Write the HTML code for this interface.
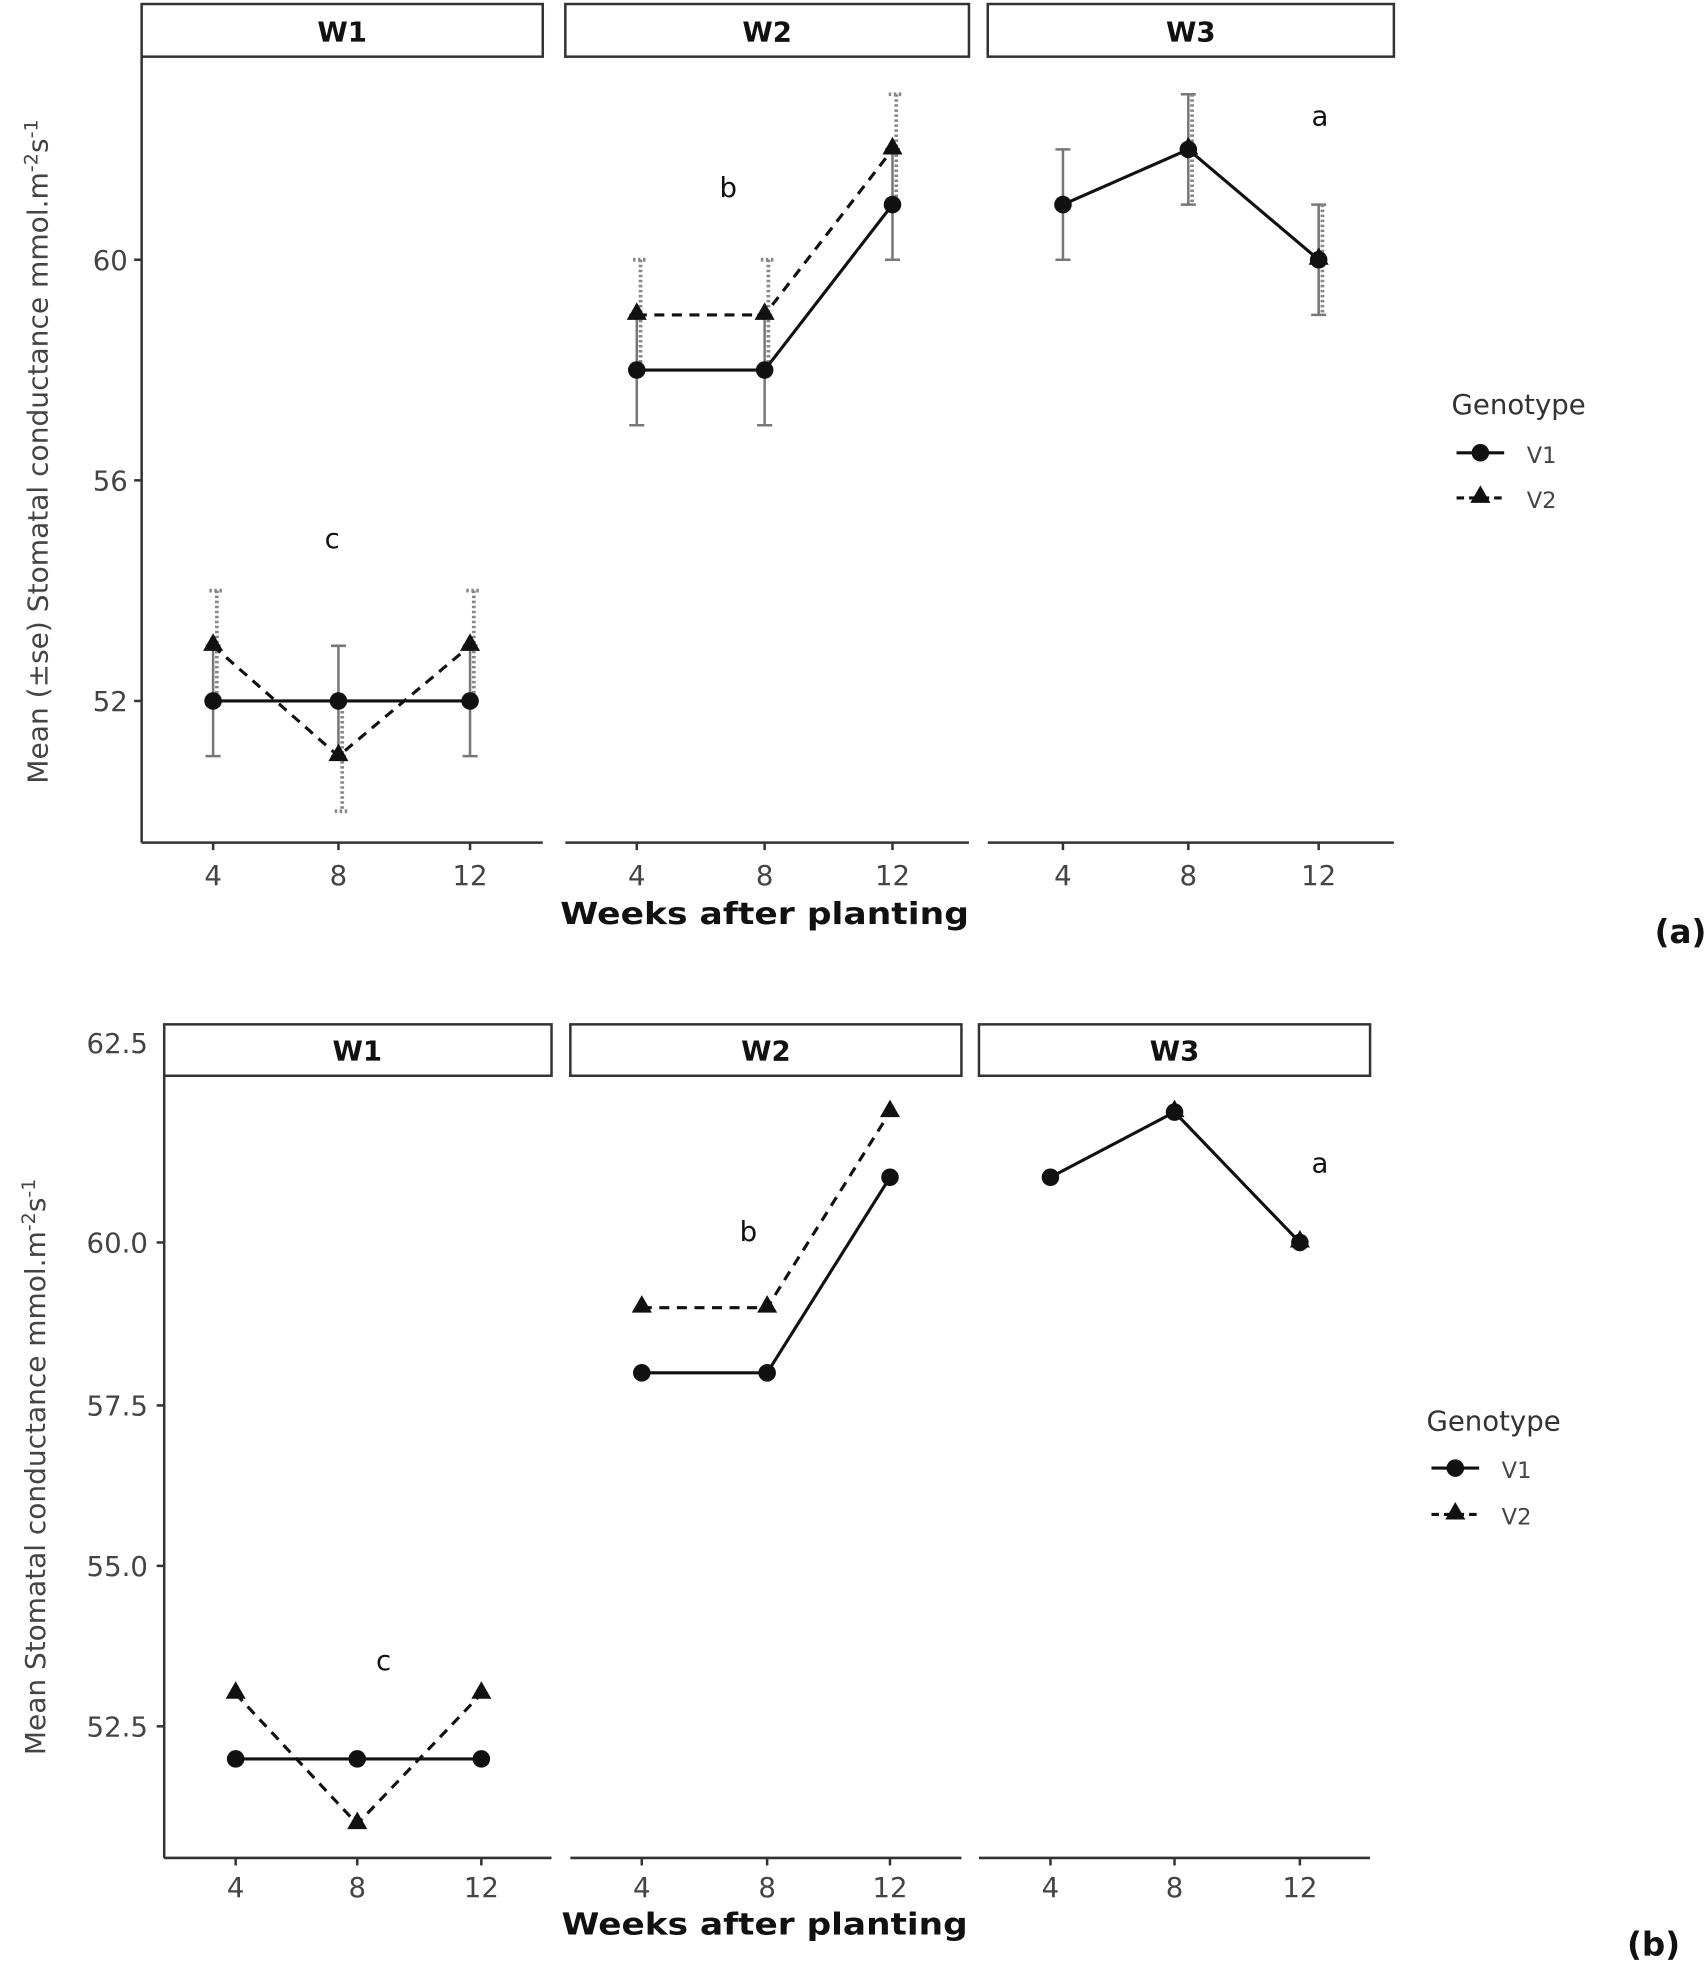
<!DOCTYPE html>
<html><head><meta charset="utf-8"><style>
html,body{margin:0;padding:0;background:#fff;}
svg{display:block;}
text{font-family:"DejaVu Sans","Liberation Sans",sans-serif;}
</style></head><body>
<svg width="1706" height="1966" viewBox="0 0 1361 1568" xmlns="http://www.w3.org/2000/svg">
<defs>
<g id="tri"><polygon points="0,-8 8,6 -8,6" fill="#111"/></g>
</defs>
<!-- ===== Panel (a) ===== -->
<g stroke="#333" stroke-width="2" fill="#fff">
<rect x="113" y="3" width="320" height="42"/>
<rect x="451" y="3" width="322" height="42"/>
<rect x="788" y="3" width="324" height="42"/>
</g>
<g font-weight="bold" font-size="22" text-anchor="middle" fill="#111">
<text x="273" y="33">W1</text><text x="612" y="33">W2</text><text x="950" y="33">W3</text>
</g>
<g stroke="#333" stroke-width="2">
<line x1="113" y1="45" x2="113" y2="672"/>
<line x1="113" y1="672" x2="433" y2="672"/>
<line x1="451" y1="672" x2="773" y2="672"/>
<line x1="788" y1="672" x2="1112" y2="672"/>
<line x1="107" y1="207" x2="113" y2="207"/><line x1="107" y1="383" x2="113" y2="383"/><line x1="107" y1="559" x2="113" y2="559"/>
<line x1="170" y1="672" x2="170" y2="678"/><line x1="270" y1="672" x2="270" y2="678"/><line x1="375" y1="672" x2="375" y2="678"/>
<line x1="508" y1="672" x2="508" y2="678"/><line x1="610" y1="672" x2="610" y2="678"/><line x1="712" y1="672" x2="712" y2="678"/>
<line x1="848" y1="672" x2="848" y2="678"/><line x1="948" y1="672" x2="948" y2="678"/><line x1="1052" y1="672" x2="1052" y2="678"/>
</g>
<g font-size="22" fill="#444" text-anchor="end">
<text x="102" y="215">60</text><text x="102" y="391">56</text><text x="102" y="567">52</text>
</g>
<g font-size="22" fill="#444" text-anchor="middle">
<text x="170" y="706">4</text><text x="270" y="706">8</text><text x="375" y="706">12</text>
<text x="508" y="706">4</text><text x="610" y="706">8</text><text x="712" y="706">12</text>
<text x="848" y="706">4</text><text x="948" y="706">8</text><text x="1052" y="706">12</text>
</g>
<text x="447" y="737" font-size="24" font-weight="bold" fill="#111" textLength="326" lengthAdjust="spacingAndGlyphs">Weeks after planting</text>
<text transform="translate(38,625) rotate(-90)" font-size="22" fill="#444" textLength="530" lengthAdjust="spacingAndGlyphs">Mean (±se)  Stomatal conductance  mmol.m<tspan dy="-8" font-size="15">-2</tspan><tspan dy="8">s</tspan><tspan dy="-8" font-size="15">-1</tspan></text>
<!-- error bars (a) -->
<g stroke="#777" stroke-width="2" fill="none">
<path d="M170,515V603M164,515h12M164,603h12 M270,515V603M264,515h12M264,603h12 M375,515V603M369,515h12M369,603h12
M508,251V339M502,251h12M502,339h12 M610,251V339M604,251h12M604,339h12 M712,119V207M706,119h12M706,207h12
M848,119V207M842,119h12M842,207h12 M948,75V163M942,75h12M942,163h12 M1052,163V251M1046,163h12M1046,251h12"/>
</g>
<g stroke="#888" stroke-width="3" stroke-dasharray="2,2" fill="none">
<path d="M173,471V559M167,471h12 M273,559V647M267,647h12 M378,471V559M372,471h12
M511,207V295M505,207h12 M613,207V295M607,207h12 M715,75V163M709,75h12
M951,75V163 M1055,163V251"/>
</g>
<g stroke="#111" stroke-width="2.5" fill="none">
<polyline points="170,559 270,559 375,559"/>
<polyline points="508,295 610,295 712,163"/>
<polyline points="848,163 948,119 1052,207"/>
</g>
<g stroke="#111" stroke-width="2.5" fill="none" stroke-dasharray="8,6">
<polyline points="170,515 270,603 375,515"/>
<polyline points="508,251 610,251 712,119"/>
</g>
<g fill="#111">
<circle cx="170" cy="559" r="7"/><circle cx="270" cy="559" r="7"/><circle cx="375" cy="559" r="7"/>
<circle cx="508" cy="295" r="7"/><circle cx="610" cy="295" r="7"/><circle cx="712" cy="163" r="7"/>
<circle cx="848" cy="163" r="7"/><circle cx="948" cy="119" r="7"/><circle cx="1052" cy="207" r="7"/>
</g>
<use href="#tri" x="170" y="513"/><use href="#tri" x="270" y="601"/><use href="#tri" x="375" y="513"/>
<use href="#tri" x="508" y="249"/><use href="#tri" x="610" y="249"/><use href="#tri" x="712" y="117"/>
<use href="#tri" x="948" y="117"/><use href="#tri" x="1052" y="205"/>
<g font-size="22" fill="#111" text-anchor="middle">
<text x="265" y="437">c</text><text x="581" y="157">b</text><text x="1053" y="100">a</text>
</g>
<text x="1158" y="330" font-size="22" fill="#333">Genotype</text>
<line x1="1162" y1="361" x2="1200" y2="361" stroke="#111" stroke-width="2.5"/><circle cx="1181" cy="361" r="7" fill="#111"/>
<text x="1218" y="369" font-size="18" fill="#444">V1</text>
<line x1="1162" y1="397" x2="1200" y2="397" stroke="#111" stroke-width="2.5" stroke-dasharray="6,4"/><use href="#tri" x="1181" y="395"/>
<text x="1218" y="405" font-size="18" fill="#444">V2</text>
<text x="1320" y="752" font-family="Liberation Serif" font-size="26" font-weight="bold" fill="#111">(a)</text>

<!-- ===== Panel (b) ===== -->
<g stroke="#333" stroke-width="2" fill="#fff">
<rect x="131" y="817" width="309" height="41"/>
<rect x="455" y="817" width="312" height="41"/>
<rect x="781" y="817" width="312" height="41"/>
</g>
<g font-weight="bold" font-size="22" text-anchor="middle" fill="#111">
<text x="285" y="846">W1</text><text x="611" y="846">W2</text><text x="937" y="846">W3</text>
</g>
<g stroke="#333" stroke-width="2">
<line x1="131" y1="858" x2="131" y2="1482"/>
<line x1="131" y1="1482" x2="440" y2="1482"/>
<line x1="455" y1="1482" x2="767" y2="1482"/>
<line x1="781" y1="1482" x2="1093" y2="1482"/>
<line x1="125" y1="991" x2="131" y2="991"/><line x1="125" y1="1121" x2="131" y2="1121"/><line x1="125" y1="1249" x2="131" y2="1249"/><line x1="125" y1="1377" x2="131" y2="1377"/>
<line x1="188" y1="1482" x2="188" y2="1488"/><line x1="285" y1="1482" x2="285" y2="1488"/><line x1="384" y1="1482" x2="384" y2="1488"/>
<line x1="512" y1="1482" x2="512" y2="1488"/><line x1="612" y1="1482" x2="612" y2="1488"/><line x1="710" y1="1482" x2="710" y2="1488"/>
<line x1="838" y1="1482" x2="838" y2="1488"/><line x1="937" y1="1482" x2="937" y2="1488"/><line x1="1037" y1="1482" x2="1037" y2="1488"/>
</g>
<g font-size="22" fill="#444" text-anchor="end">
<text x="118" y="840">62.5</text><text x="118" y="999">60.0</text><text x="118" y="1129">57.5</text><text x="118" y="1257">55.0</text><text x="118" y="1385">52.5</text>
</g>
<g font-size="22" fill="#444" text-anchor="middle">
<text x="188" y="1513">4</text><text x="285" y="1513">8</text><text x="384" y="1513">12</text>
<text x="512" y="1513">4</text><text x="612" y="1513">8</text><text x="710" y="1513">12</text>
<text x="838" y="1513">4</text><text x="937" y="1513">8</text><text x="1037" y="1513">12</text>
</g>
<text x="448" y="1543" font-size="24" font-weight="bold" fill="#111" textLength="324" lengthAdjust="spacingAndGlyphs">Weeks after planting</text>
<text transform="translate(36,1400) rotate(-90)" font-size="22" fill="#444" textLength="460" lengthAdjust="spacingAndGlyphs">Mean Stomatal conductance  mmol.m<tspan dy="-8" font-size="15">-2</tspan><tspan dy="8">s</tspan><tspan dy="-8" font-size="15">-1</tspan></text>
<g stroke="#111" stroke-width="2.5" fill="none">
<polyline points="188,1403 285,1403 384,1403"/>
<polyline points="512,1095 612,1095 710,939"/>
<polyline points="838,939 937,887 1037,991"/>
</g>
<g stroke="#111" stroke-width="2.5" fill="none" stroke-dasharray="8,6">
<polyline points="188,1351 285,1455 384,1351"/>
<polyline points="512,1043 612,1043 710,887"/>
</g>
<g fill="#111">
<circle cx="188" cy="1403" r="7"/><circle cx="285" cy="1403" r="7"/><circle cx="384" cy="1403" r="7"/>
<circle cx="512" cy="1095" r="7"/><circle cx="612" cy="1095" r="7"/><circle cx="710" cy="939" r="7"/>
<circle cx="838" cy="939" r="7"/><circle cx="937" cy="887" r="7"/><circle cx="1037" cy="991" r="7"/>
</g>
<use href="#tri" x="188" y="1349"/><use href="#tri" x="285" y="1453"/><use href="#tri" x="384" y="1349"/>
<use href="#tri" x="512" y="1041"/><use href="#tri" x="612" y="1041"/><use href="#tri" x="710" y="885"/>
<use href="#tri" x="937" y="885"/><use href="#tri" x="1037" y="989"/>
<g font-size="22" fill="#111" text-anchor="middle">
<text x="306" y="1332">c</text><text x="597" y="990">b</text><text x="1053" y="935">a</text>
</g>
<text x="1138" y="1141" font-size="22" fill="#333">Genotype</text>
<line x1="1142" y1="1171" x2="1180" y2="1171" stroke="#111" stroke-width="2.5"/><circle cx="1161" cy="1171" r="7" fill="#111"/>
<text x="1198" y="1179" font-size="18" fill="#444">V1</text>
<line x1="1142" y1="1208" x2="1180" y2="1208" stroke="#111" stroke-width="2.5" stroke-dasharray="6,4"/><use href="#tri" x="1161" y="1206"/>
<text x="1198" y="1216" font-size="18" fill="#444">V2</text>
<text x="1298" y="1560" font-family="Liberation Serif" font-size="26" font-weight="bold" fill="#111">(b)</text>
</svg>
</body></html>
